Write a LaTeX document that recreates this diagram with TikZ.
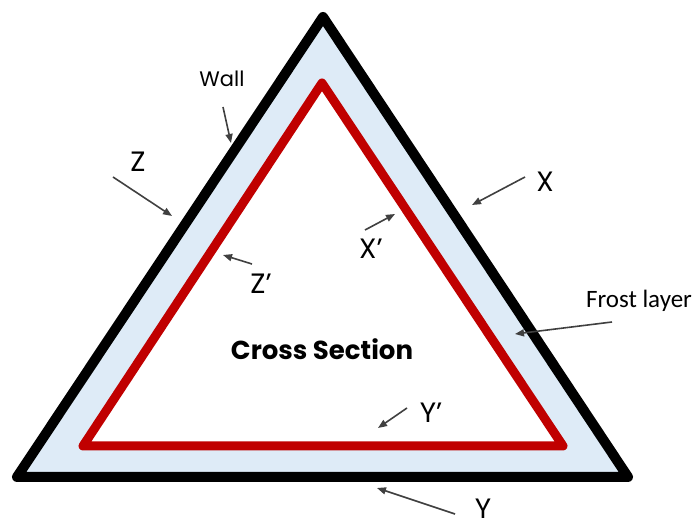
\documentclass[tikz,border=0pt]{standalone}
\usepackage{fontspec}
\setmainfont{Poppins}
\newfontfamily\calfont{Carlito}
\usetikzlibrary{arrows.meta}
\definecolor{frost}{RGB}{222,235,247}
\definecolor{wallred}{RGB}{192,0,0}
\definecolor{arrgray}{RGB}{64,64,64}
\tikzset{
  lbl/.style={inner sep=0pt, font=\fontsize{28}{30}\selectfont},
  smalllbl/.style={inner sep=0pt, font=\fontsize{21}{24}\selectfont},
  ptr/.style={draw=arrgray, line width=1.6pt, -{Triangle[length=9pt,width=7pt]}},
  wallline/.style={draw=black, line width=10pt, line join=round},
  redline/.style={draw=wallred, line width=9pt, line join=round}
}
\begin{document}
\begin{tikzpicture}[x=1pt,y=-1pt]
\useasboundingbox (0,0) rectangle (694,526);
% outer triangle
\coordinate (oa) at (323,17);
\coordinate (ob) at (17,477);
\coordinate (oc) at (628,477);
\coordinate (ia) at (322,83);
\coordinate (ib) at (83,446);
\coordinate (ic) at (563,446);
\fill[frost] (oa) -- (ob) -- (oc) -- cycle;
\fill[white] (ia) -- (ib) -- (ic) -- cycle;
\draw[redline] (ia) -- (ib) -- (ic) -- cycle;
\draw[wallline] (oa) -- (ob) -- (oc) -- cycle;
% labels
\node[smalllbl] (wall) at (222,79) {Wall};
\node[lbl] (z) at (138,162) {Z};
\node[lbl] (x) at (545,182) {X};
\node[lbl] (xp) at (371,249) {X’};
\node[lbl] (zp) at (261,284) {Z’};
\node[lbl] (yp) at (431,413) {Y’};
\node[lbl] (y) at (483,509) {Y};
\node[inner sep=0pt, font=\calfont\fontsize{25}{27}\selectfont] (frostlbl) at (639,301) {Frost layer};
\node[inner sep=0pt, font=\bfseries\fontsize{26}{29}\selectfont] (cs) at (322,349) {Cross Section};
% arrow coordinates
\coordinate (wallS) at (223,107); \coordinate (wallE) at (231,143);
\coordinate (zS) at (113,177); \coordinate (zE) at (172,216);
\coordinate (xS) at (525,177); \coordinate (xE) at (472,205);
\coordinate (xpS) at (365,230); \coordinate (xpE) at (395,214);
\coordinate (zpS) at (252,264); \coordinate (zpE) at (223,255);
\coordinate (fS) at (612,322); \coordinate (fE) at (515,334);
\coordinate (ypS) at (407,408); \coordinate (ypE) at (378,428);
\coordinate (yS) at (455,514); \coordinate (yE) at (377,488);
\draw[ptr] (wallS) -- (wallE);
\draw[ptr] (zS) -- (zE);
\draw[ptr] (xS) -- (xE);
\draw[ptr] (xpS) -- (xpE);
\draw[ptr] (zpS) -- (zpE);
\draw[ptr] (fS) -- (fE);
\draw[ptr] (ypS) -- (ypE);
\draw[ptr] (yS) -- (yE);
\end{tikzpicture}
\end{document}
